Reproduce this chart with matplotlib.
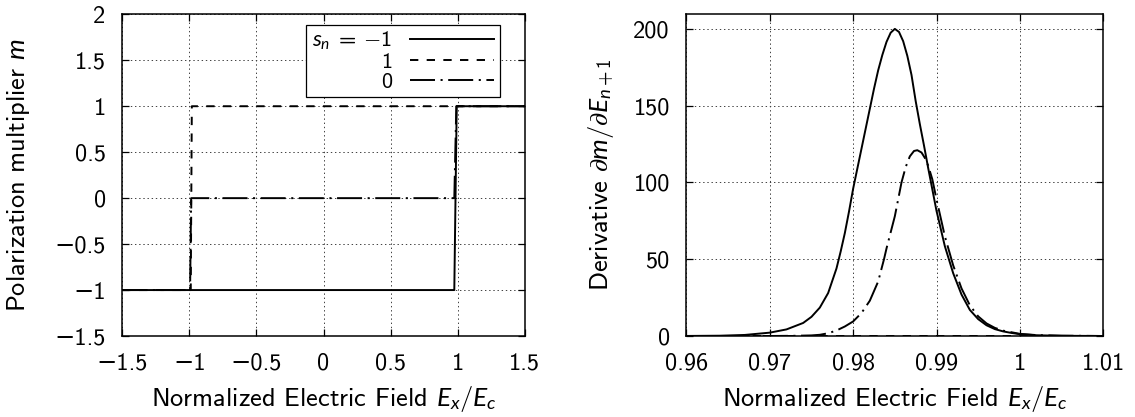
import matplotlib
matplotlib.use("Agg")
import matplotlib.pyplot as plt
from matplotlib.ticker import FuncFormatter

plt.rcParams['font.family'] = ['cmss10', 'DejaVu Sans']
plt.rcParams['mathtext.fontset'] = 'custom'
plt.rcParams['mathtext.rm'] = 'cmss10'
plt.rcParams['mathtext.sf'] = 'cmss10'
plt.rcParams['mathtext.it'] = 'Lato:italic'
plt.rcParams['mathtext.fallback'] = 'cm'
plt.rcParams['lines.scale_dashes'] = False
plt.rcParams['axes.unicode_minus'] = True

# left panel: polarization multiplier m vs E/Ec
e_solid = [-1.5, 0.975, 0.993, 1.5]
m_solid = [-1, -1, 1, 1]
e_dash = [-1.5, -0.99, -0.982, 1.5]
m_dash = [-1, -1, 1, 1]
e_dd = [-1.5, -0.995, -0.987, 0.975, 0.99, 1.5]
m_dd = [-1, -1, 0, 0, 1, 1]

# right panel: derivative dm/dE
x_sol = [0.960, 0.964, 0.967, 0.970, 0.972, 0.974, 0.975, 0.976, 0.977, 0.978,
         0.9785, 0.979, 0.9795, 0.980, 0.9805, 0.981, 0.9815, 0.982, 0.9825, 0.983,
         0.9835, 0.984, 0.9845, 0.985, 0.9855, 0.986, 0.9865, 0.987, 0.9875, 0.988,
         0.9885, 0.989, 0.990, 0.991, 0.992, 0.993, 0.994, 0.995, 0.996, 0.997,
         0.998, 0.999, 1.000, 1.002, 1.005, 1.010]
y_sol = [0.05, 0.2, 0.7, 2.2, 4.3, 8.5, 12.5, 18.5, 28, 44,
         55, 67, 81, 96, 109, 122, 135, 148, 161, 173,
         183, 191.5, 197.5, 200, 198, 192, 182.4, 170, 153, 138,
         124, 109.4, 81.5, 58.5, 40.9, 27, 17, 11, 7, 4.5,
         3, 2, 1.2, 0.5, 0.15, 0.02]
x_dd = [0.960, 0.970, 0.973, 0.975, 0.976, 0.977, 0.978, 0.979, 0.980, 0.981,
        0.982, 0.983, 0.9837, 0.984, 0.985, 0.9858, 0.9863, 0.9868, 0.9873, 0.9877,
        0.9882, 0.9886, 0.989, 0.9895, 0.990, 0.991, 0.992, 0.993, 0.994, 0.995,
        0.996, 0.997, 0.998, 1.000, 1.002, 1.005, 1.010]
y_dd = [0, 0.02, 0.15, 0.4, 0.8, 1.8, 3.6, 6.2, 9.5, 15,
        23, 35.5, 50, 57, 78, 100, 110, 117, 120.5, 121,
        119.5, 116, 111, 102, 89, 65, 46, 31, 20, 12.8,
        8.2, 5.3, 3.5, 1.4, 0.6, 0.2, 0.02]
x_dash = [0.96, 1.01]
y_dash = [0, 0]

labels = [r'$s_n \;=\; {-}1$', '1', '0']
xticks_l = [-1.5, -1, -0.5, 0, 0.5, 1, 1.5]
yticks_l = [-1.5, -1, -0.5, 0, 0.5, 1, 1.5, 2]
xticks_r = [0.96, 0.97, 0.98, 0.99, 1.0, 1.01]
yticks_r = [0, 50, 100, 150, 200]

dashed = (0, (6, 6))
dashdot = (0, (18, 4, 1.5, 4))
lw = 1.4
tfs = 17.5
lfs = 19

fig = plt.figure(figsize=(11.35, 4.17), dpi=100)
ax1 = fig.add_axes([0.1078, 0.1942, 0.3545, 0.7715])
ax2 = fig.add_axes([0.6048, 0.1942, 0.3672, 0.7715])

fmt = FuncFormatter(lambda v, p: ('%g' % v).replace('-', '\u2212'))

def style(ax):
    ax.grid(True, color='0.25', linestyle=(0, (1, 2)), linewidth=0.7)
    ax.set_axisbelow(True)
    ax.tick_params(direction='in', top=True, right=True, length=5, width=0.9,
                   labelsize=tfs, pad=12)
    ax.xaxis.set_major_formatter(fmt)
    ax.yaxis.set_major_formatter(fmt)
    for s in ax.spines.values():
        s.set_linewidth(1.1)

ax1.plot(e_solid, m_solid, color='k', lw=lw, label=labels[0])
ax1.plot(e_dash, m_dash, color='k', lw=lw, linestyle=dashed, label=labels[1])
ax1.plot(e_dd, m_dd, color='k', lw=lw, linestyle=dashdot, label=labels[2])
ax1.set_xlim(-1.5, 1.5)
ax1.set_ylim(-1.5, 2)
ax1.set_xticks(xticks_l)
ax1.set_yticks(yticks_l)
style(ax1)
ax1.set_xlabel('Normalized Electric Field $E_x/E_c$', fontsize=lfs)
ax1.set_ylabel('Polarization multiplier $m$', fontsize=lfs)
ax1.xaxis.set_label_coords(0.5, -0.15)
ax1.yaxis.set_label_coords(-0.225, 0.5)
leg = ax1.legend(loc='upper right', bbox_to_anchor=(0.9386, 0.968), borderaxespad=0,
                 markerfirst=False, fontsize=16, handlelength=3.8, handletextpad=0.8,
                 labelspacing=0.0, borderpad=0.25, fancybox=False, framealpha=1,
                 edgecolor='k')
leg.get_frame().set_linewidth(0.9)

ax2.plot(x_sol, y_sol, color='k', lw=lw)
ax2.plot(x_dash, y_dash, color='k', lw=lw, linestyle=dashed)
ax2.plot(x_dd, y_dd, color='k', lw=lw, linestyle=dashdot)
ax2.set_xlim(0.96, 1.01)
ax2.set_ylim(0, 209.5)
ax2.set_xticks(xticks_r)
ax2.set_yticks(yticks_r)
style(ax2)
ax2.set_xlabel('Normalized Electric Field $E_x/E_c$', fontsize=lfs)
ax2.set_ylabel(r'Derivative $\partial m/\partial E_{n+1}$', fontsize=lfs)
ax2.xaxis.set_label_coords(0.5, -0.15)
ax2.yaxis.set_label_coords(-0.17, 0.5)

fig.savefig('out.png', dpi=100)
